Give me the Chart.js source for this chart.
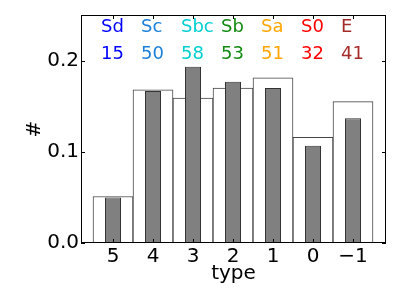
<!DOCTYPE html>
<html>
<head>
<meta charset="utf-8">
<script src="https://cdn.jsdelivr.net/npm/chart.js@4"></script>
<style>
html,body{margin:0;padding:0;background:#fff;}
#wrap{width:406px;height:304px;position:relative;}
</style>
</head>
<body>
<div id="wrap"><canvas id="c" width="406" height="304"></canvas></div>
<script>
// ---- data ----
const types = [5, 4, 3, 2, 1, 0, -1];
const typeNames = ["Sd", "Sc", "Sbc", "Sb", "Sa", "S0", "E"];
const counts = [15, 50, 58, 53, 51, 32, 41];
const whiteFractions = [0.051, 0.168, 0.159, 0.170, 0.181, 0.116, 0.155];
const greyFractions = [0.050, 0.1667, 0.1933, 0.1767, 0.170, 0.1067, 0.1367];
const yTicks = [0.0, 0.1, 0.2];
// ---- styles ----
const nameColors = ["#0000ff", "#1a7fd9", "#00cfd1", "#128a12", "#ffa500", "#ff0000", "#a52a2a"];
const FONT = "'DejaVu Sans', sans-serif";

const frameAndTicks = {
  id: 'frameAndTicks',
  afterDatasetsDraw(chart) {
    const {ctx, chartArea: a, scales: {x, y}} = chart;
    ctx.save();
    ctx.strokeStyle = '#000';
    ctx.lineWidth = 1;
    ctx.strokeRect(Math.round(a.left) + 0.5, Math.round(a.top) + 0.5,
                   Math.round(a.right - a.left) - 1, Math.round(a.bottom - a.top) - 1);
    ctx.beginPath();
    const L = 4;
    types.forEach(t => {
      const px = Math.round(x.getPixelForValue(t)) + 0.5;
      ctx.moveTo(px, a.top); ctx.lineTo(px, a.top + L);
      ctx.moveTo(px, a.bottom); ctx.lineTo(px, a.bottom - L);
    });
    yTicks.forEach(v => {
      const py = Math.round(y.getPixelForValue(v)) + 0.5;
      ctx.moveTo(a.left, py); ctx.lineTo(a.left + L, py);
      ctx.moveTo(a.right, py); ctx.lineTo(a.right - L, py);
    });
    ctx.stroke();
    // annotations
    ctx.font = '18px ' + FONT;
    ctx.textAlign = 'left';
    ctx.textBaseline = 'middle';
    types.forEach((t, i) => {
      const px = x.getPixelForValue(t + 0.3);
      ctx.fillStyle = nameColors[i];
      ctx.fillText(typeNames[i], px, y.getPixelForValue(0.236));
      ctx.fillText(String(counts[i]), px, y.getPixelForValue(0.2066));
    });
    ctx.restore();
  }
};

new Chart(document.getElementById('c'), {
  type: 'bar',
  data: {
    datasets: [
      {
        label: 'grey',
        data: types.map((t, i) => ({x: t, y: greyFractions[i]})),
        backgroundColor: '#808080',
        borderColor: '#333333',
        borderWidth: 1,
        borderSkipped: false,
        grouped: false,
        barPercentage: 0.4,
        categoryPercentage: 1.0,
        order: 0
      },
      {
        label: 'white',
        data: types.map((t, i) => ({x: t, y: whiteFractions[i]})),
        backgroundColor: '#ffffff',
        borderColor: '#444444',
        borderWidth: 1,
        borderSkipped: false,
        grouped: false,
        barPercentage: 1.0,
        categoryPercentage: 1.0,
        order: 1
      }
    ]
  },
  options: {
    responsive: false,
    animation: false,
    layout: {padding: {top: 15, right: 20, left: 0, bottom: 0}},
    plugins: {legend: {display: false}, tooltip: {enabled: false}},
    scales: {
      x: {
        type: 'linear',
        reverse: true,
        offset: false,
        min: -1.825,
        max: 5.8,
        grid: {display: false, drawTicks: false, offset: false},
        border: {display: false},
        afterBuildTicks: s => { s.ticks = types.map(v => ({value: v})); },
        afterFit: s => { s.height = 61; },
        ticks: {
          color: '#000',
          padding: 2,
          autoSkip: false,
          maxRotation: 0,
          font: {family: FONT, size: 20},
          callback: v => v < 0 ? '\u2212' + Math.abs(v) : String(v)
        },
        title: {display: true, text: 'type', color: '#000',
                font: {family: FONT, size: 20}, padding: {top: 0, bottom: 18}}
      },
      y: {
        min: 0,
        max: 0.25,
        grid: {display: false, drawTicks: false},
        border: {display: false},
        afterBuildTicks: s => { s.ticks = yTicks.map(v => ({value: v})); },
        afterFit: s => { s.width = 81; },
        ticks: {
          color: '#000',
          padding: 2,
          font: {family: FONT, size: 20},
          callback: v => Number(v).toFixed(1)
        },
        title: {display: true, text: '#', color: '#000',
                font: {family: FONT, size: 20}, padding: {top: 23, bottom: 0}}
      }
    }
  },
  plugins: [frameAndTicks]
});
</script>
</body>
</html>
